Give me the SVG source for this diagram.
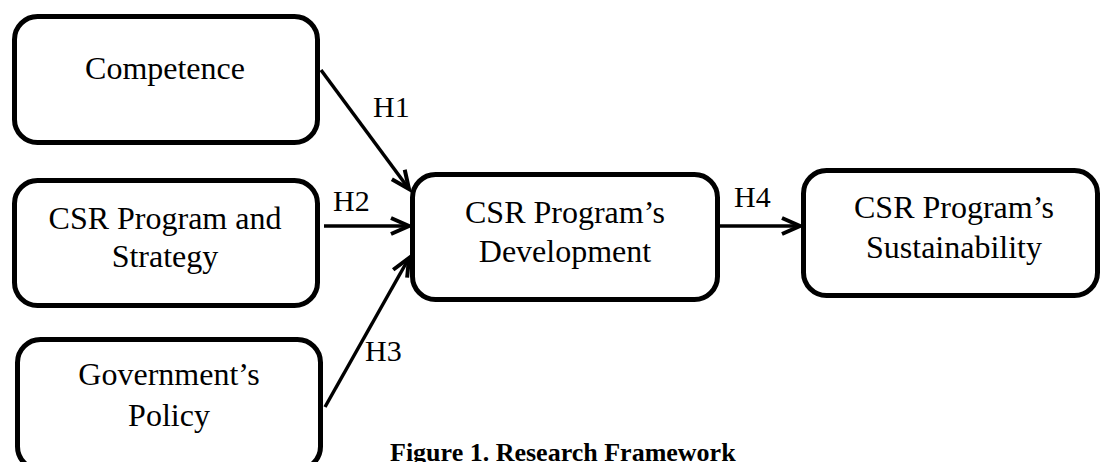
<svg xmlns="http://www.w3.org/2000/svg" width="1101" height="462" viewBox="0 0 1101 462">
  <style>
    .box { fill: #ffffff; stroke: #000000; stroke-width: 5; }
    .txt { font-family: "Liberation Serif", "Times New Roman", serif; font-size: 32px; fill: #000000; text-anchor: middle; }
    .lbl { font-family: "Liberation Serif", "Times New Roman", serif; font-size: 30px; fill: #000000; }
    .cap { font-family: "Liberation Serif", "Times New Roman", serif; font-size: 26px; font-weight: bold; fill: #000000; }
    .conn { stroke: #000000; stroke-width: 3.5; fill: none; marker-end: url(#arrow); }
  </style>
  <defs>
    <marker id="arrow" markerUnits="userSpaceOnUse" viewBox="-22 -12 26 24" refX="0" refY="0" markerWidth="26" markerHeight="24" orient="auto" overflow="visible">
      <path d="M-18,-8 L0,0 L-18,8" fill="none" stroke="#000000" stroke-width="4" stroke-linejoin="miter"/>
    </marker>
  </defs>
  <rect x="0" y="0" width="1101" height="462" fill="#ffffff"/>

  <g id="connectors">
    <line class="conn" x1="321" y1="70" x2="409" y2="189"/>
    <line class="conn" x1="324" y1="226" x2="409" y2="226"/>
    <line class="conn" x1="325" y1="407" x2="409" y2="258"/>
    <line class="conn" x1="720" y1="226" x2="800" y2="226"/>
    <text class="lbl" x="373" y="117">H1</text>
    <text class="lbl" x="333" y="211">H2</text>
    <text class="lbl" x="365" y="361">H3</text>
    <text class="lbl" x="734" y="207">H4</text>
  </g>

  <g id="competence">
    <rect class="box" x="14.5" y="16.5" width="303" height="126" rx="23"/>
    <text class="txt" x="165" y="79">Competence</text>
  </g>

  <g id="strategy">
    <rect class="box" x="14.5" y="180.5" width="303" height="125" rx="23"/>
    <text class="txt" x="165" y="229">CSR Program and</text>
    <text class="txt" x="165" y="267">Strategy</text>
  </g>

  <g id="policy">
    <rect class="box" x="17.5" y="339.5" width="303" height="130" rx="23"/>
    <text class="txt" x="169" y="385">Government’s</text>
    <text class="txt" x="169" y="426">Policy</text>
  </g>

  <g id="development">
    <rect class="box" x="412.5" y="174.5" width="305" height="125" rx="23"/>
    <text class="txt" x="565" y="223">CSR Program’s</text>
    <text class="txt" x="565" y="262">Development</text>
  </g>

  <g id="sustainability">
    <rect class="box" x="803.5" y="170.5" width="294" height="125" rx="23"/>
    <text class="txt" x="954" y="218">CSR Program’s</text>
    <text class="txt" x="954" y="258">Sustainability</text>
  </g>

  <text class="cap" x="390" y="461">Figure 1. Research Framework</text>
</svg>
